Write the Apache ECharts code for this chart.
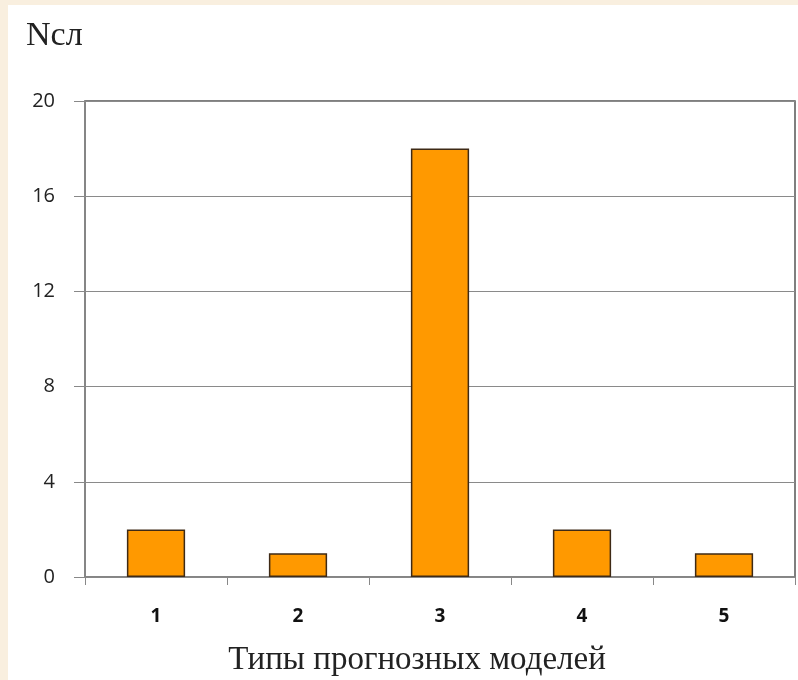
<!DOCTYPE html>
<html>
<head>
<meta charset="utf-8">
<script src="https://cdn.jsdelivr.net/npm/echarts@6/dist/echarts.min.js"></script>
<style>
  html, body { margin: 0; padding: 0; width: 798px; height: 680px; background: #F9EFDF; overflow: hidden; }
  #chart { position: absolute; left: 8px; top: 5px; width: 790px; height: 675px; background: #ffffff; }
</style>
</head>
<body>
<div id="chart"></div>
<script>
// Number of cases per forecast-model type
const modelTypes = ['1', '2', '3', '4', '5'];
const caseCounts = [2, 1, 18, 2, 1];
const yTicks = { min: 0, max: 20, step: 4 };
const yTitle = 'Nсл';
const xTitle = 'Типы прогнозных моделей';

const chart = echarts.init(document.getElementById('chart'), null, { renderer: 'canvas' });
chart.setOption({
  animation: false,
  title: {
    text: yTitle,
    left: 13, top: 9,
    textStyle: { fontFamily: 'Liberation Serif', fontSize: 34, fontWeight: 'normal', color: '#222' }
  },
  grid: {
    left: 77, top: 96, right: 3, bottom: 103,
    outerBoundsMode: 'none',
    containLabel: false,
    show: true, borderColor: '#555', borderWidth: 1.5, backgroundColor: 'transparent'
  },
  xAxis: {
    type: 'category',
    data: modelTypes,
    boundaryGap: true,
    name: xTitle,
    nameLocation: 'middle',
    nameGap: 67,
    nameTextStyle: { fontFamily: 'Liberation Serif', fontSize: 33, color: '#222', padding: [0, 46, 0, 0] },
    axisLine: { lineStyle: { color: '#888', width: 1.5 } },
    axisTick: { show: true, length: 8, lineStyle: { color: '#888' } },
    axisLabel: { margin: 30, fontFamily: 'Open Sans', fontWeight: 'bold', fontSize: 19, color: '#111' }
  },
  yAxis: {
    type: 'value',
    min: yTicks.min, max: yTicks.max, interval: yTicks.step,
    axisLine: { show: true, lineStyle: { color: '#888', width: 1.5 } },
    axisTick: { show: true, length: 11, lineStyle: { color: '#888' } },
    axisLabel: { margin: 30, fontFamily: 'Open Sans', fontSize: 20, color: '#222' },
    splitLine: { lineStyle: { color: '#8a8a8a', width: 1 } }
  },
  series: [{
    type: 'bar',
    data: caseCounts,
    barWidth: '41%',
    itemStyle: { color: '#FF9900', borderColor: '#3E2A16', borderWidth: 1.5 }
  }]
});
</script>
</body>
</html>
